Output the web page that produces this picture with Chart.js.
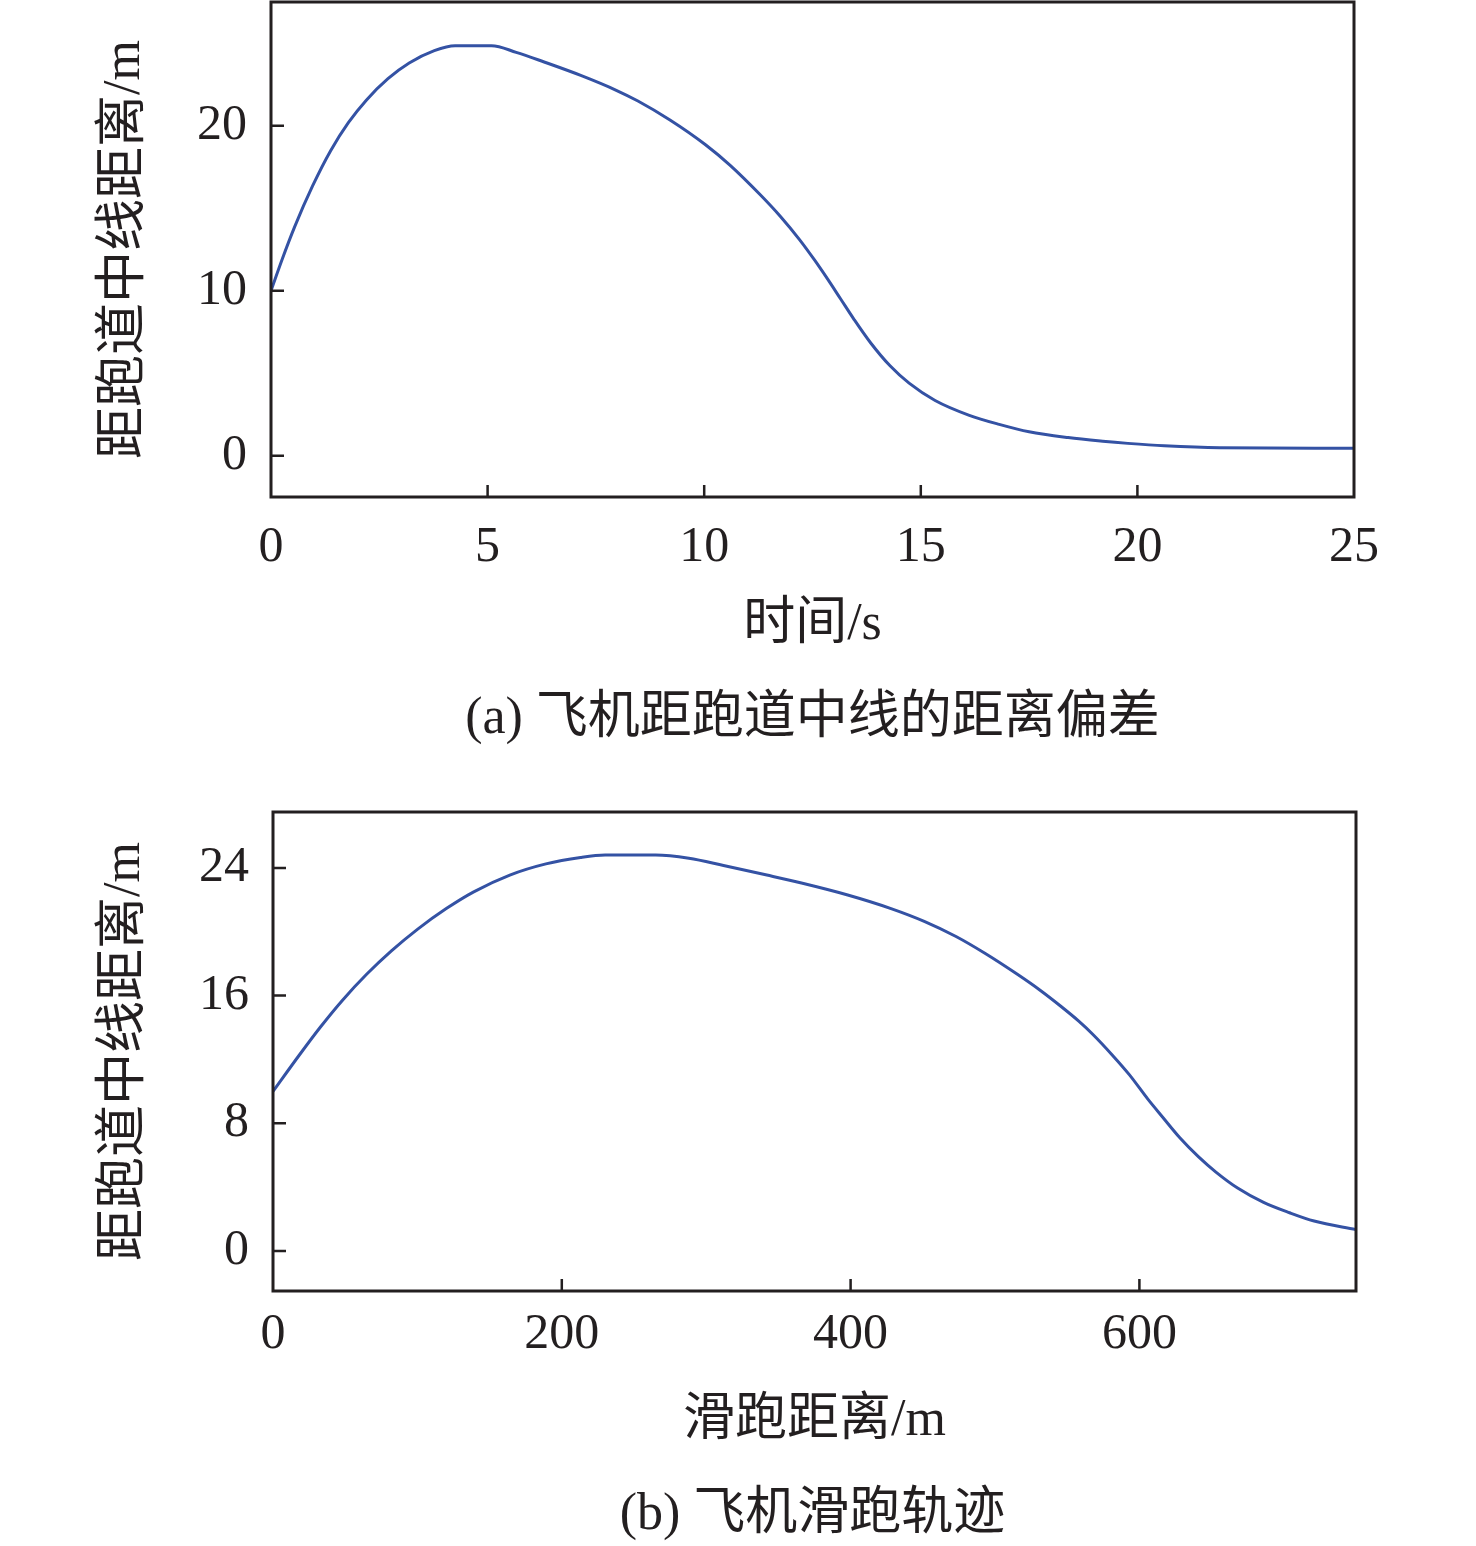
<!DOCTYPE html>
<html>
<head>
<meta charset="utf-8">
<script src="https://cdn.jsdelivr.net/npm/chart.js@4.4.1/dist/chart.umd.min.js"></script>
<style>
body { margin: 0; background: #fff; width: 1476px; height: 1546px; position: relative; overflow: hidden; }
canvas { position: absolute; left: 0; }
.cap { position: absolute; left: 0; width: 1625px; text-align: center; line-height: 60px;
       font-family: "Liberation Serif", "Noto Sans CJK SC", serif; font-size: 52px; color: #231f20; }
</style>
</head>
<body>
<canvas id="chartA" width="1476" height="670" style="top:0"></canvas>
<div class="cap" style="top:686px">(a) 飞机距跑道中线的距离偏差</div>
<canvas id="chartB" width="1476" height="710" style="top:760px"></canvas>
<div class="cap" style="top:1482px">(b) 飞机滑跑轨迹</div>
<script>
// (a) lateral offset vs time
const timeS = [0, 0.25, 0.55, 0.96, 1.38, 1.79, 2.2, 2.7, 3.19, 3.77,
    4.25, 5.09, 5.66, 6.32, 7.15, 7.97, 8.47, 9.21, 10.03, 10.6,
    11.3, 11.76, 12.2, 12.55, 12.85, 13.15, 13.45, 13.84, 14.29, 14.73,
    15.33, 16.12, 16.81, 17.5, 18.4, 19.2, 19.78, 20.62, 21.9, 25];
const offsetA = [10, 11.85, 13.9, 16.35, 18.5, 20.2, 21.55, 22.85, 23.8, 24.55,
    24.85, 24.85, 24.45, 23.85, 23.05, 22.15, 21.5, 20.35, 18.85, 17.6,
    15.8, 14.5, 13.1, 11.85, 10.7, 9.5, 8.3, 6.85, 5.45, 4.4,
    3.35, 2.45, 1.9, 1.45, 1.1, 0.88, 0.75, 0.6, 0.48, 0.45];
const xTicksA = [0, 5, 10, 15, 20, 25];
const yTicksA = [0, 10, 20];

// (b) lateral offset vs rolling distance
const distM = [0, 18, 33, 48, 65, 82, 100, 120, 139, 164,
    189, 213, 230, 265, 288, 312, 342, 366, 398, 428,
    451, 473, 493, 516, 531, 546, 558, 568, 581, 593,
    606, 616, 628, 641, 653, 668, 686, 704, 721, 750];
const offsetB = [10, 12.25, 14.05, 15.7, 17.35, 18.8, 20.15, 21.45, 22.5, 23.55,
    24.25, 24.65, 24.8, 24.8, 24.6, 24.15, 23.55, 23.05, 22.3, 21.45,
    20.65, 19.7, 18.65, 17.3, 16.35, 15.3, 14.4, 13.55, 12.3, 11.05,
    9.5, 8.4, 7.1, 5.9, 4.95, 3.95, 3.05, 2.4, 1.88, 1.35];
const xTicksB = [0, 200, 400, 600];
const yTicksB = [0, 8, 16, 24];

const INK = '#231f20';
const LINE = '#3452a4';
const FAMILY = '"Liberation Serif", "Noto Sans CJK SC", serif';
const TICK_FONT = { family: FAMILY, size: 50 };
const TITLE_FONT = { family: FAMILY, size: 52 };

// box frame + inward tick marks
const frameTicks = {
    id: 'frameTicks',
    afterDraw(chart) {
        const { ctx, chartArea: a, scales: { x, y } } = chart;
        ctx.save();
        ctx.strokeStyle = INK;
        ctx.lineWidth = 2.5;
        ctx.beginPath();
        x.ticks.forEach(t => {
            const px = x.getPixelForValue(t.value);
            if (px > a.left + 3 && px < a.right - 3) {
                ctx.moveTo(px, a.bottom);
                ctx.lineTo(px, a.bottom - 12);
            }
        });
        y.ticks.forEach(t => {
            const py = y.getPixelForValue(t.value);
            ctx.moveTo(a.left, py);
            ctx.lineTo(a.left + 13, py);
        });
        ctx.stroke();
        ctx.lineWidth = 3;
        ctx.strokeRect(a.left, a.top, a.right - a.left, a.bottom - a.top);
        ctx.restore();
    }
};

function makeChart(id, xs, ys, opt) {
    const ctx = document.getElementById(id).getContext('2d');
    return new Chart(ctx, {
        type: 'line',
        data: {
            datasets: [{
                data: xs.map((v, i) => ({ x: v, y: ys[i] })),
                borderColor: LINE,
                borderWidth: 3,
                pointRadius: 0,
                cubicInterpolationMode: 'monotone',
                fill: false
            }]
        },
        options: {
            responsive: false,
            animation: false,
            devicePixelRatio: 1,
            layout: { padding: { top: opt.padTop, right: opt.padRight, left: 0, bottom: 0 } },
            plugins: { legend: { display: false }, tooltip: { enabled: false } },
            scales: {
                x: {
                    type: 'linear',
                    min: opt.xMin, max: opt.xMax,
                    afterBuildTicks: s => { s.ticks = opt.xTicks.map(v => ({ value: v })); },
                    afterFit: s => { s.height = opt.xHeight; s.paddingLeft = 0; s.paddingRight = 0; },
                    grid: { display: false, drawTicks: false },
                    border: { display: false },
                    ticks: { font: TICK_FONT, color: INK, padding: opt.xPad, maxRotation: 0 },
                    title: { display: true, text: opt.xTitle, font: TITLE_FONT, color: INK,
                             padding: { top: 0, bottom: opt.xTitlePad } }
                },
                y: {
                    min: -2.5, max: 27.5,
                    afterBuildTicks: s => { s.ticks = opt.yTicks.map(v => ({ value: v })); },
                    afterFit: s => { s.width = opt.yWidth; s.paddingTop = 0; s.paddingBottom = 0; },
                    grid: { display: false, drawTicks: false },
                    border: { display: false },
                    ticks: { font: TICK_FONT, color: INK, padding: 24 },
                    title: { display: true, text: '距跑道中线距离/m', font: TITLE_FONT, color: INK,
                             padding: { top: 94, bottom: 0 } }
                }
            }
        },
        plugins: [frameTicks]
    });
}

makeChart('chartA', timeS, offsetA, {
    xMin: 0, xMax: 25, xTicks: xTicksA, yTicks: yTicksA,
    padTop: 2, padRight: 122, yWidth: 271, xHeight: 173,
    xPad: 21, xTitle: '时间/s', xTitlePad: 13
});

makeChart('chartB', distM, offsetB, {
    xMin: 0, xMax: 750, xTicks: xTicksB, yTicks: yTicksB,
    padTop: 52, padRight: 120, yWidth: 273, xHeight: 179,
    xPad: 14, xTitle: '滑跑距离/m', xTitlePad: 17
});
</script>
</body>
</html>
